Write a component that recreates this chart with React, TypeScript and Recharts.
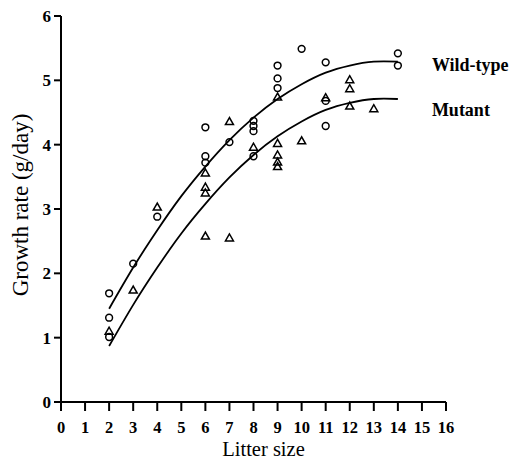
import React from 'react';
import { ComposedChart, XAxis, YAxis, Scatter, Line, ReferenceDot } from 'recharts';

const xTicks = [0, 1, 2, 3, 4, 5, 6, 7, 8, 9, 10, 11, 12, 13, 14, 15, 16];
const yTicks = [0, 1, 2, 3, 4, 5, 6];

// Wild-type observations (open circles)
const wildX = [2, 2, 2, 3, 4, 6, 6, 6, 7, 8, 8, 8, 8, 9, 9, 9, 10, 11, 11, 11, 14, 14];
const wildY = [1.69, 1.31, 1.01, 2.15, 2.88, 4.27, 3.82, 3.72, 4.04, 4.37, 4.29, 4.21, 3.82, 5.23, 5.03, 4.88, 5.49, 5.28, 4.68, 4.29, 5.42, 5.23];

// Mutant observations (open triangles)
const mutantX = [2, 3, 4, 6, 6, 6, 6, 7, 7, 8, 9, 9, 9, 9, 9, 10, 11, 12, 12, 12, 13];
const mutantY = [1.1, 1.74, 3.03, 3.56, 3.34, 3.25, 2.58, 4.36, 2.55, 3.96, 4.74, 4.02, 3.84, 3.73, 3.66, 4.06, 4.73, 5.01, 4.87, 4.6, 4.56];

// Fitted curves
const curveX = [2, 3, 4, 5, 6, 7, 8, 9, 10, 11, 12, 13, 14];
const wildCurveY = [1.45, 2.09, 2.67, 3.2, 3.66, 4.07, 4.42, 4.71, 4.94, 5.12, 5.23, 5.29, 5.29];
const mutantCurveY = [0.87, 1.51, 2.09, 2.62, 3.08, 3.49, 3.84, 4.13, 4.36, 4.54, 4.65, 4.71, 4.71];

const seriesNames = ['Wild-type', 'Mutant'];
const labelY = [5.24, 4.54];

const zip = (xs: number[], ys: number[]) => xs.map((x, i) => ({ x, y: ys[i] }));

const wildPoints = zip(wildX, wildY);
const mutantPoints = zip(mutantX, mutantY);
const wildCurve = zip(curveX, wildCurveY);
const mutantCurve = zip(curveX, mutantCurveY);

const FONT = "'Liberation Serif', 'Times New Roman', serif";

const CircleShape = (props: any) => {
  const { cx, cy } = props;
  if (cx == null || cy == null) return null;
  return <circle cx={cx} cy={cy} r={3.4} fill="none" stroke="#000" strokeWidth={1.5} />;
};

const TriangleShape = (props: any) => {
  const { cx, cy } = props;
  if (cx == null || cy == null) return null;
  const d = `M${cx},${cy - 4} L${cx - 4},${cy + 3} L${cx + 4},${cy + 3} Z`;
  return <path d={d} fill="none" stroke="#000" strokeWidth={1.5} strokeLinejoin="miter" />;
};

const XTick = (props: any) => {
  const { x, y, payload } = props;
  return (
    <text x={x} y={y} dy="0.71em" textAnchor="middle" fontFamily={FONT} fontSize={16.5} fontWeight="bold" fill="#000">
      {payload.value}
    </text>
  );
};

const YTick = (props: any) => {
  const { x, y, payload } = props;
  return (
    <text x={x} y={y} dy="0.36em" textAnchor="end" fontFamily={FONT} fontSize={17} fontWeight="bold" fill="#000">
      {payload.value}
    </text>
  );
};

const XLabel = (props: any) => {
  const vb = props.viewBox || {};
  const cx = vb.x + vb.width / 2 + 10;
  return (
    <text x={cx} y={456} textAnchor="middle" fontFamily={FONT} fontSize={20.5} fill="#000">
      Litter size
    </text>
  );
};

const YLabel = (props: any) => {
  const vb = props.viewBox || {};
  const cy = vb.y + vb.height / 2 - 4;
  const cx = 28;
  return (
    <text
      x={cx}
      y={cy}
      transform={`rotate(-90, ${cx}, ${cy})`}
      textAnchor="middle"
      fontFamily={FONT}
      fontSize={23}
      fill="#000"
    >
      Growth rate (g/day)
    </text>
  );
};

const NameLabel = (name: string) => (props: any) => {
  const vb = props.viewBox || {};
  const x = vb.x + (vb.width || 0) + 34;
  const y = vb.y + (vb.height || 0) / 2;
  return (
    <text x={x} y={y} dy="0.36em" textAnchor="start" fontFamily={FONT} fontSize={18} fontWeight="bold" fill="#000">
      {name}
    </text>
  );
};

const axisStroke = { stroke: '#000', strokeWidth: 2 };

export default function App() {
  return (
    <div style={{ position: 'fixed', left: 0, top: 0, width: 511, height: 459, background: '#fff' }}>
      <ComposedChart width={511} height={459} margin={{ top: 16, right: 65, bottom: 0, left: 0 }}>
        <XAxis
          type="number"
          dataKey="x"
          domain={[0, 16]}
          ticks={xTicks}
          interval={0}
          allowDataOverflow
          height={57}
          tickSize={9}
          tickMargin={10}
          axisLine={axisStroke}
          tickLine={axisStroke}
          tick={<XTick />}
          label={<XLabel />}
        />
        <YAxis
          type="number"
          dataKey="y"
          domain={[0, 6]}
          ticks={yTicks}
          interval={0}
          allowDataOverflow
          width={61}
          tickSize={7}
          tickMargin={3}
          axisLine={axisStroke}
          tickLine={axisStroke}
          tick={<YTick />}
          label={<YLabel />}
        />
        <Line
          data={wildCurve}
          dataKey="y"
          type="natural"
          stroke="#000"
          strokeWidth={1.8}
          dot={false}
          activeDot={false}
          isAnimationActive={false}
        />
        <Line
          data={mutantCurve}
          dataKey="y"
          type="natural"
          stroke="#000"
          strokeWidth={1.8}
          dot={false}
          activeDot={false}
          isAnimationActive={false}
        />
        <Scatter data={wildPoints} dataKey="y" shape={<CircleShape />} isAnimationActive={false} />
        <Scatter data={mutantPoints} dataKey="y" shape={<TriangleShape />} isAnimationActive={false} />
        {seriesNames.map((name, i) => (
          <ReferenceDot
            key={name}
            x={14}
            y={labelY[i]}
            r={0}
            fill="none"
            stroke="none"
            ifOverflow="visible"
            label={NameLabel(name)}
          />
        ))}
      </ComposedChart>
    </div>
  );
}
